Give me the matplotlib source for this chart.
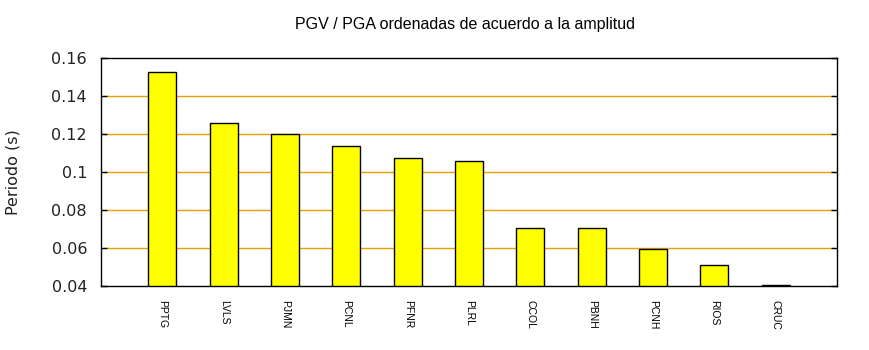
import matplotlib
matplotlib.use("Agg")
import matplotlib.pyplot as plt
import numpy as np

# Stations sorted by amplitude, PGV/PGA period in seconds
stations = ["PPTG", "LVLS", "PJMN", "PCNL", "PFNR", "PLRL",
            "CCOL", "PBNH", "PCNH", "RIOS", "CRUC"]
periods = [0.1526, 0.1258, 0.1200, 0.1137, 0.1074, 0.1058,
           0.0705, 0.0705, 0.0595, 0.0510, 0.0405]
y_ticks = [0.04, 0.06, 0.08, 0.1, 0.12, 0.14, 0.16]
y_tick_labels = ["0.04", "0.06", "0.08", "0.1", "0.12", "0.14", "0.16"]

fig = plt.figure(figsize=(8.7, 3.5), dpi=100)
ax = fig.add_axes([101 / 870, 1 - 286 / 350, 736 / 870, 228 / 350])

x = np.arange(len(stations))
ymin = 0.04
ax.bar(x, np.array(periods) - ymin, bottom=ymin, width=0.46,
       color="#ffff00", edgecolor="black", linewidth=1.0, zorder=3)

ax.set_xlim(-1, len(stations))
ax.set_ylim(0.04, 0.16)

# horizontal grid lines, inset a little from the frame like gnuplot draws them
for yv in y_ticks[1:-1]:
    ax.plot([-0.95, len(stations) - 0.05], [yv, yv], color="#e6a000",
            linewidth=1.0, zorder=1)

ax.set_yticks(y_ticks)
ax.set_yticklabels(y_tick_labels, fontsize=11.5, family="DejaVu Sans",
                   color="#222222")
ax.tick_params(axis="y", direction="in", length=4, width=1, right=True,
               pad=10)
ax.set_xticks(x)
ax.set_xticklabels(stations, rotation=-90, fontsize=7.5,
                   family="Liberation Sans")
ax.tick_params(axis="x", length=0, pad=10)

for sp in ax.spines.values():
    sp.set_linewidth(1.0)

ax.set_ylabel("Periodo (s)", fontsize=11.5, family="DejaVu Sans",
              color="#222222", labelpad=22.5)
fig.text(465 / 870, 1 - 25 / 350, "PGV / PGA ordenadas de acuerdo a la amplitud",
         ha="center", va="center", fontsize=11.5, family="Liberation Sans")

fig.savefig("out.png", dpi=100)
